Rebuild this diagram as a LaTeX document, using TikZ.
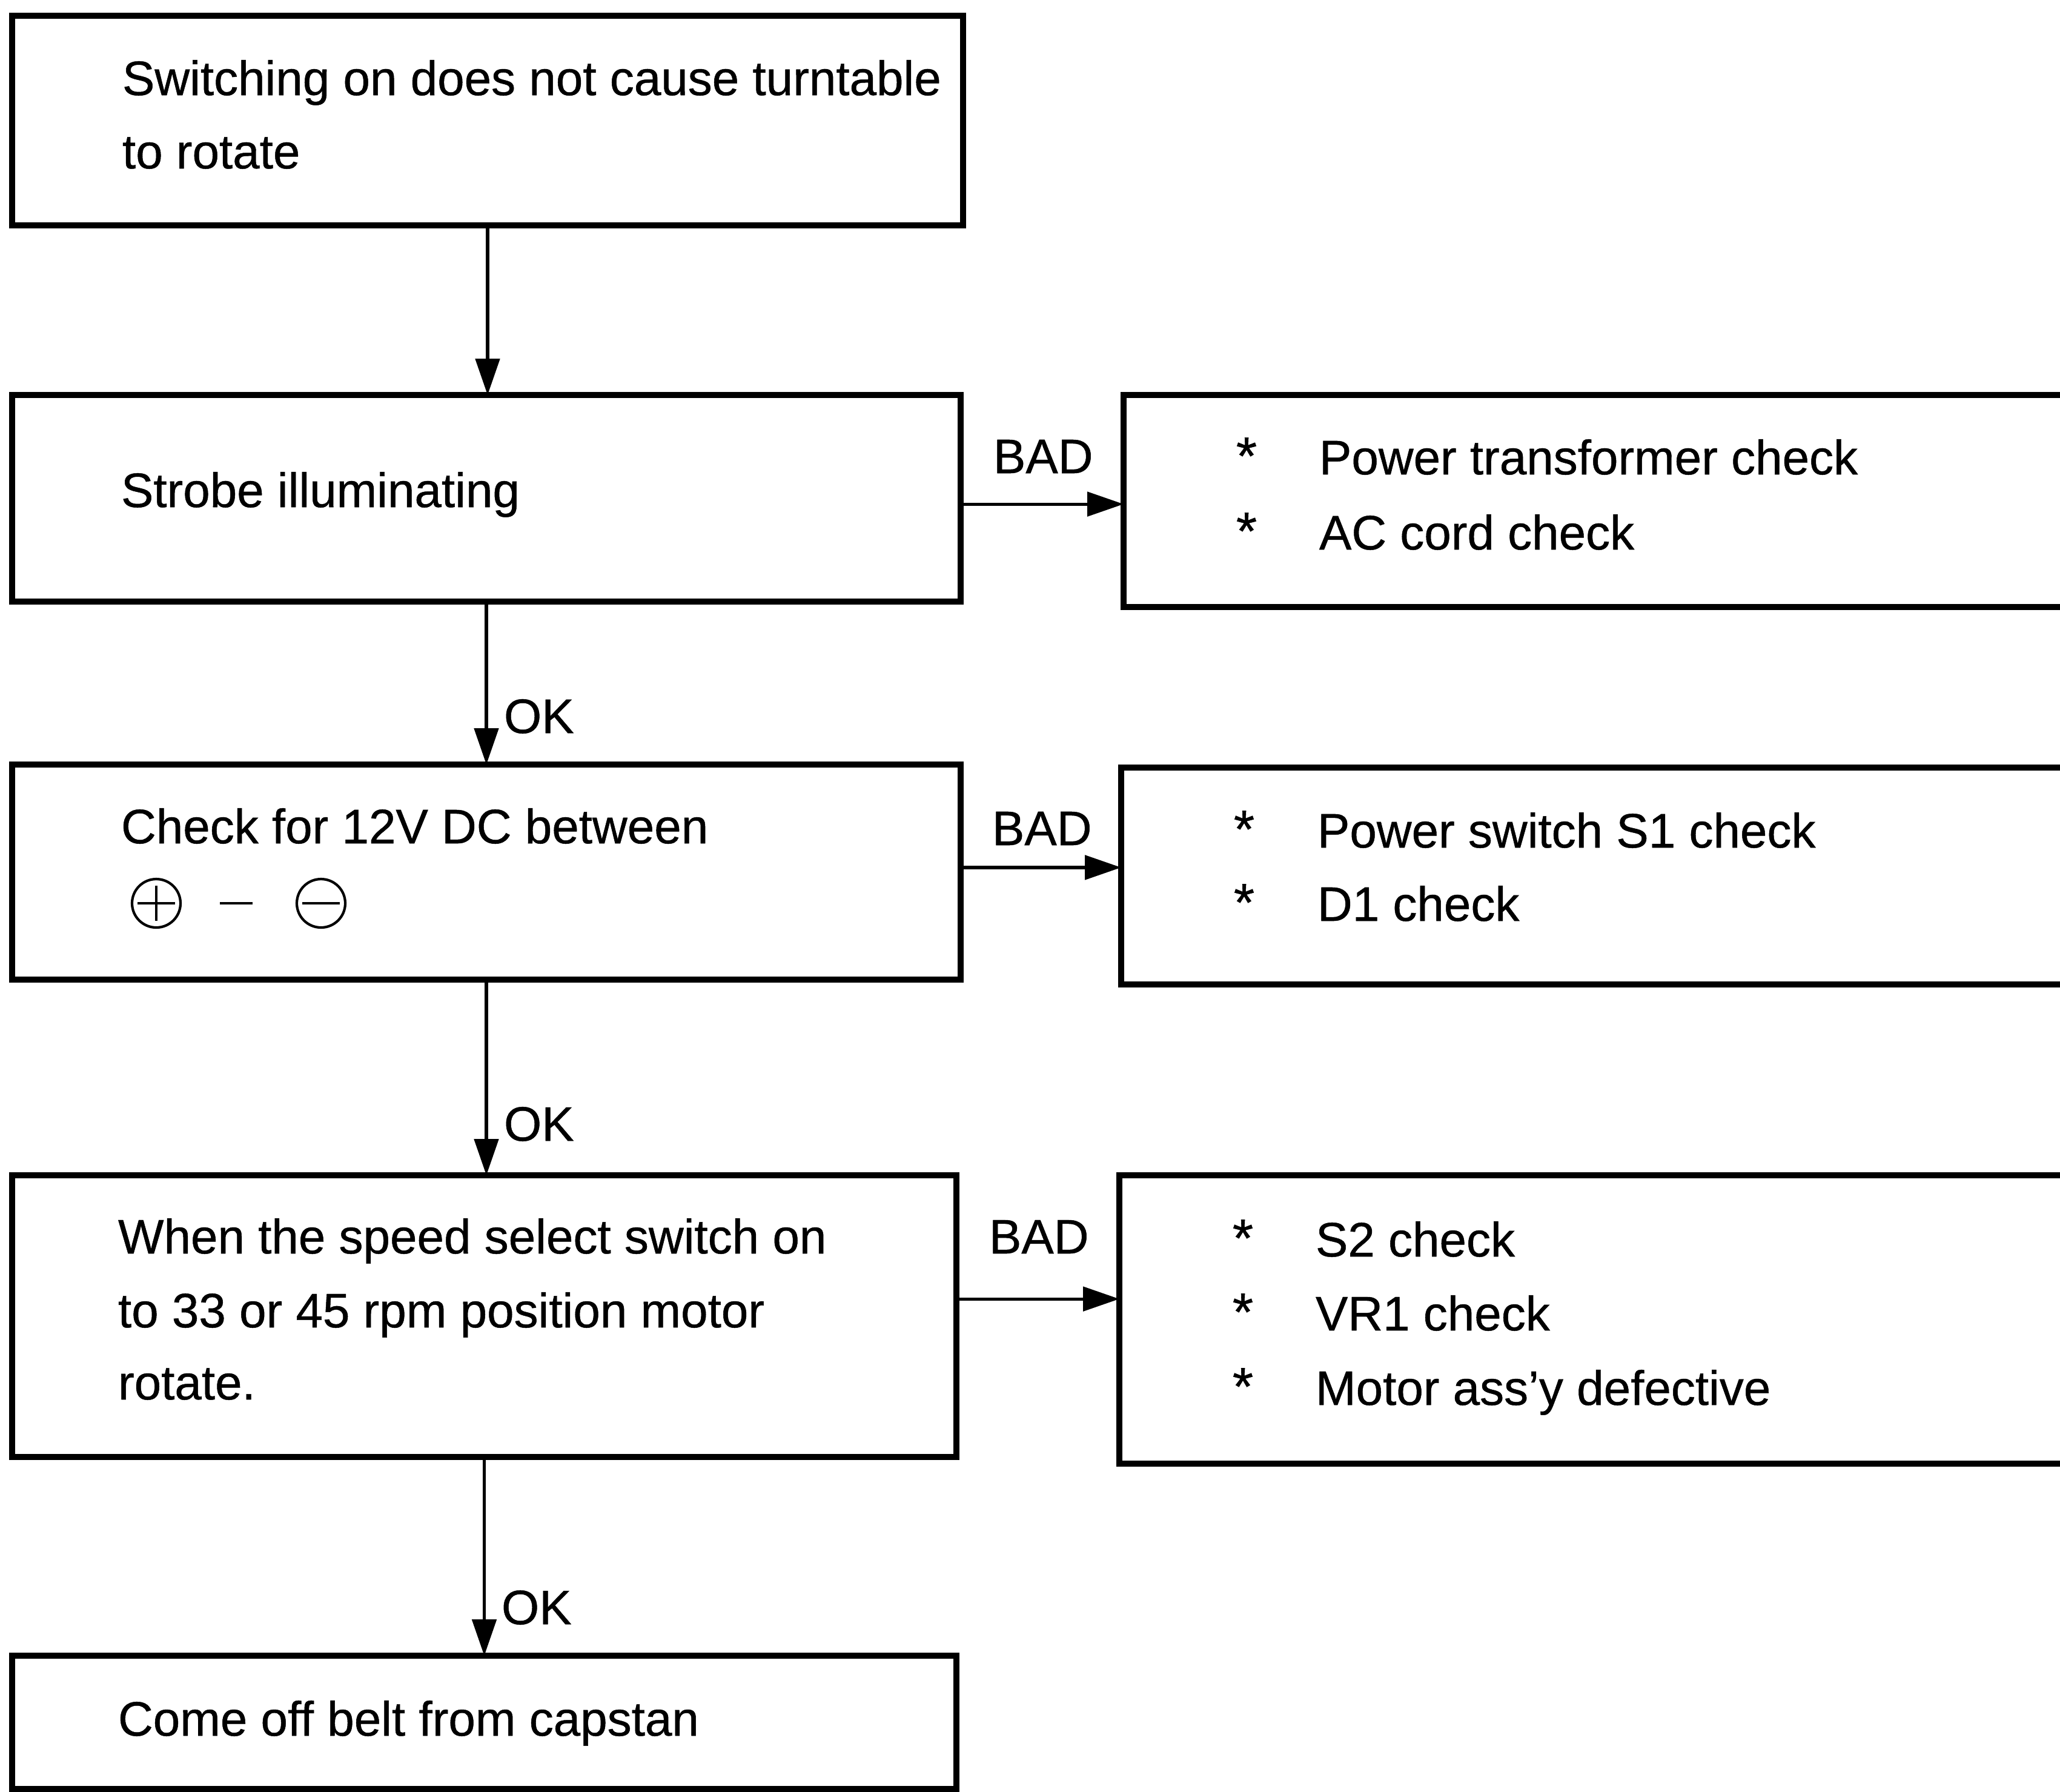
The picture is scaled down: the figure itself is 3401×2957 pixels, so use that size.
\documentclass[tikz,border=0pt]{standalone}
\usepackage{fontspec}
\setmainfont{Liberation Sans}[FakeBold=0.6]
\usetikzlibrary{arrows.meta,fit}
\begin{document}
\begin{tikzpicture}[x=0.25pt,y=-0.25pt,
  box/.style={draw, line width=2.4pt, rectangle, inner sep=0pt, outer sep=0pt},
  txt/.style={anchor=base west, inner sep=0pt, outer sep=0pt, font=\fontsize{20}{24}\selectfont},
  bullet/.style={anchor=base, inner sep=0pt, outer sep=0pt, font=\fontsize{22}{24}\selectfont},
  conn/.style={line width=1.3pt, -{Triangle[length=15pt,width=10pt]}},
  sym/.style={line width=1.05pt}]
\useasboundingbox (0,0) rectangle (3401,2957);
\fill[white] (0,0) rectangle (3401,2957);
\clip (0,0) rectangle (3401,2957);

% boxes
\node[box, fit={(20,26) (1590,372)}] (b1) {};
\node[box, fit={(20,652) (1586,993)}] (b2) {};
\node[box, fit={(1855,652) (3470,1002)}] (r1) {};
\node[box, fit={(20,1262) (1586,1617)}] (b3) {};
\node[box, fit={(1851,1267) (3470,1625)}] (r2) {};
\node[box, fit={(20,1940) (1579,2405)}] (b4) {};
\node[box, fit={(1848,1940) (3470,2416)}] (r3) {};
\node[box, fit={(20,2733) (1579,2953)}] (b5) {};

% box texts
\node[txt] (t1a) at (202,157) {Switching on does not cause turntable};
\node[txt] (t1b) at (202,278) {to rotate};
\node[txt] (t2) at (200,837) {Strobe illuminating};
\node[txt] (t3) at (200,1392) {Check for 12V DC between};
\node[txt] (t4a) at (195,2069) {When the speed select switch on};
\node[txt] (t4b) at (195,2191) {to 33 or 45 rpm position motor};
\node[txt] (t4c) at (195,2310) {rotate.};
\node[txt] (t5) at (195,2865) {Come off belt from capstan};

% plus - minus symbols
\node[circle, draw, sym, minimum size=20pt, inner sep=0pt] (pl) at (258,1491) {};
\draw[sym] ([xshift=-7.75pt]pl.center) -- ([xshift=7.75pt]pl.center);
\draw[sym] ([yshift=-7.25pt]pl.center) -- ([yshift=7.25pt]pl.center);
\coordinate (dash) at (390,1491);
\draw[sym] ([xshift=-6.75pt]dash) -- ([xshift=6.75pt]dash);
\node[circle, draw, sym, minimum size=20pt, inner sep=0pt] (mi) at (530,1491) {};
\draw[sym] ([xshift=-7.75pt]mi.center) -- ([xshift=7.75pt]mi.center);

% right box texts
\node[bullet] (s1a) at (2058,783) {*};
\node[txt] (r1a) at (2178,783) {Power transformer check};
\node[bullet] (s1b) at (2058,907) {*};
\node[txt] (r1b) at (2178,907) {AC cord check};

\node[bullet] (s2a) at (2054,1399) {*};
\node[txt] (r2a) at (2175,1399) {Power switch S1 check};
\node[bullet] (s2b) at (2054,1520) {*};
\node[txt] (r2b) at (2175,1520) {D1 check};

\node[bullet] (s3a) at (2052,2074) {*};
\node[txt] (r3a) at (2172,2074) {S2 check};
\node[bullet] (s3b) at (2052,2196) {*};
\node[txt] (r3b) at (2172,2196) {VR1 check};
\node[bullet] (s3c) at (2052,2319) {*};
\node[txt] (r3c) at (2172,2319) {Motor ass'y defective};

% vertical connectors
\draw[conn] (b1.south) -- (b1.south |- b2.north);
\draw[conn] (b2.south) -- (b2.south |- b3.north);
\draw[conn] (b3.south) -- (b3.south |- b4.north);
\draw[conn] (b4.south) -- (b4.south |- b5.north);

% OK labels
\node[txt] (ok1) at (832,1210) {OK};
\node[txt] (ok2) at (832,1883) {OK};
\node[txt] (ok3) at (828,2681) {OK};

% horizontal connectors
\coordinate (a1) at ([yshift=-2.4pt]b2.east);
\coordinate (a2) at ([yshift=1.9pt]b3.east);
\coordinate (a3) at ([yshift=7.1pt]b4.east);
\draw[conn] (a1) -- (a1 -| r1.west);
\draw[conn] (a2) -- (a2 -| r2.west);
\draw[conn] (a3) -- (a3 -| r3.west);

% BAD labels
\node[txt] (bad1) at (1640,781) {BAD};
\node[txt] (bad2) at (1638,1395) {BAD};
\node[txt] (bad3) at (1633,2069) {BAD};
\end{tikzpicture}
\end{document}
